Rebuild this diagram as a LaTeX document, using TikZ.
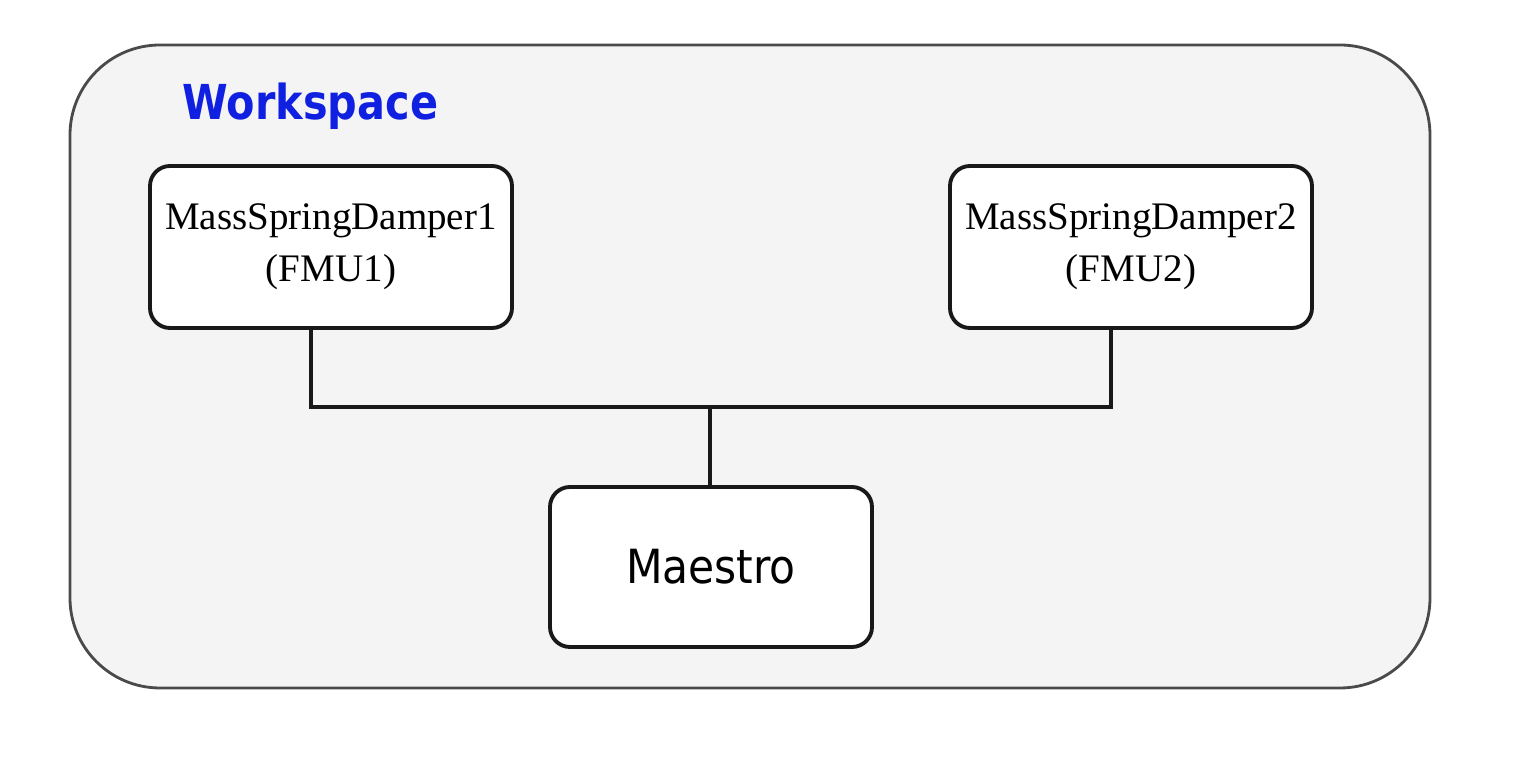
\documentclass[tikz,border=0pt]{standalone}
\usepackage{fontspec}
\setmainfont{Liberation Serif}
\newfontfamily\djv{DejaVu Sans}
\usetikzlibrary{positioning}
\definecolor{wsfill}{HTML}{F4F4F4}
\definecolor{wsline}{HTML}{4A4A4A}
\definecolor{wsblue}{HTML}{1020E0}
\tikzset{
  fmubox/.style={draw=black!90, fill=white, line width=1.1pt, rounded corners=0.2cm,
    minimum width=3.62cm, minimum height=1.62cm, align=center,
    font=\fontsize{11.1}{14.8}\selectfont},
  wire/.style={draw=black!90, line width=1pt}
}
\begin{document}
\begin{tikzpicture}
\useasboundingbox (0,0) rectangle (15.4,-7.6);
\draw[draw=wsline, fill=wsfill, line width=0.8pt, rounded corners=0.9cm]
    (0.70,-0.45) rectangle (14.30,-6.88);
\node[anchor=base west, inner sep=0pt, text=wsblue] (ws) at (1.82,-1.20)
    {\scalebox{0.86}[1]{\djv\bfseries\fontsize{13.7}{16}\selectfont Workspace}};
\node[fmubox] (msd1) at (3.31,-2.47) {MassSpringDamper1\\(FMU1)};
\node[fmubox] (msd2) at (11.31,-2.47) {MassSpringDamper2\\(FMU2)};
\node[fmubox, minimum width=3.22cm, minimum height=1.60cm] (maestro) at (7.11,-5.67)
    {\scalebox{0.9}[1]{\djv\fontsize{13.4}{16}\selectfont Maestro}};
\coordinate (bus) at (7.10,-4.07);
\draw[wire] ([xshift=-2mm]msd1.south) |- (bus) -| ([xshift=-2mm]msd2.south);
\draw[wire] (bus) -- (bus |- maestro.north);
\end{tikzpicture}
\end{document}
